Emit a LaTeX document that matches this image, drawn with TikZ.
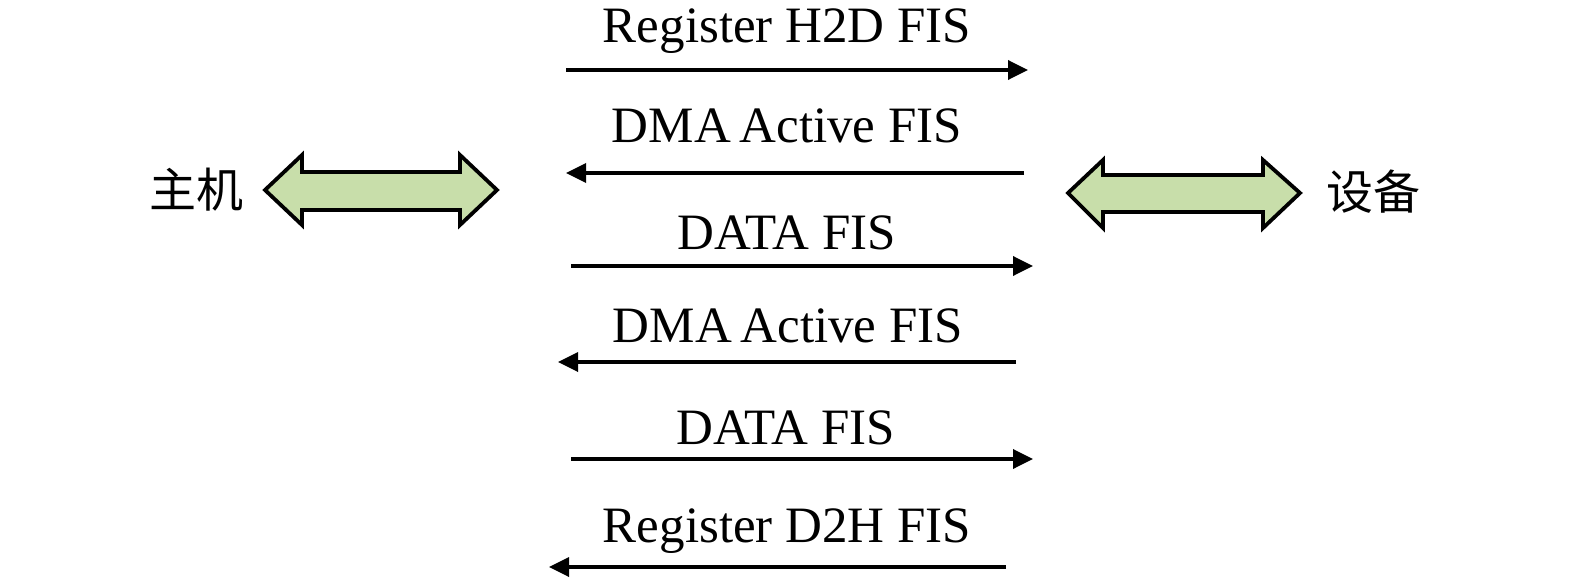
\documentclass[tikz,border=0pt]{standalone}
\usepackage{fontspec}
\setmainfont{Liberation Serif}
\newfontfamily\cjk{Noto Sans CJK SC}
\usetikzlibrary{arrows.meta}
\definecolor{arrowgreen}{RGB}{200,222,170}
\tikzset{
  lbl/.style={anchor=base, inner sep=0pt, font=\fontsize{51}{56}\selectfont},
  cjklbl/.style={anchor=center, inner sep=0pt, font=\cjk\fontsize{47}{52}\selectfont},
  msg/.style={line width=3.5pt, -{Triangle[length=20pt,width=19pt]}},
  bigarrow/.style={draw=black, line width=3.8pt, fill=arrowgreen, line join=miter}
}
\begin{document}
\begin{tikzpicture}[x=1pt,y=-1pt]
\useasboundingbox (0,0) rectangle (1575,578);
% side labels
\node[cjklbl] (host) at (196,190) {主机};
\node[cjklbl] (dev) at (1373,192) {设备};
% double arrows
\draw[bigarrow] (265,190) -- (302,155) -- (302,172) -- (460,172) -- (460,155) -- (497,190)
  -- (460,225) -- (460,210) -- (302,210) -- (302,225) -- cycle;
\draw[bigarrow] (1068,193) -- (1103,160) -- (1103,175) -- (1263,175) -- (1263,160) -- (1300,193)
  -- (1263,228) -- (1263,212) -- (1103,212) -- (1103,228) -- cycle;
% message labels
\node[lbl] (t1) at (787,43) {Register H2D FIS};
\node[lbl] (t2) at (787,142) {DMA{\kern-4pt} Active FIS};
\node[lbl] (t3) at (787,249) {DATA FIS};
\node[lbl] (t4) at (788,342) {DMA{\kern-4pt} Active FIS};
\node[lbl] (t5) at (786,444) {DATA FIS};
\node[lbl] (t6) at (787,542) {Register D2H FIS};
% message endpoints
\coordinate (a1s) at (566,70);  \coordinate (a1e) at (1028,70);
\coordinate (a2s) at (1024,173); \coordinate (a2e) at (566,173);
\coordinate (a3s) at (571,266);  \coordinate (a3e) at (1033,266);
\coordinate (a4s) at (1016,362); \coordinate (a4e) at (558,362);
\coordinate (a5s) at (571,459);  \coordinate (a5e) at (1033,459);
\coordinate (a6s) at (1006,567); \coordinate (a6e) at (549,567);
\draw[msg] (a1s) -- (a1e);
\draw[msg] (a2s) -- (a2e);
\draw[msg] (a3s) -- (a3e);
\draw[msg] (a4s) -- (a4e);
\draw[msg] (a5s) -- (a5e);
\draw[msg] (a6s) -- (a6e);
\end{tikzpicture}
\end{document}
